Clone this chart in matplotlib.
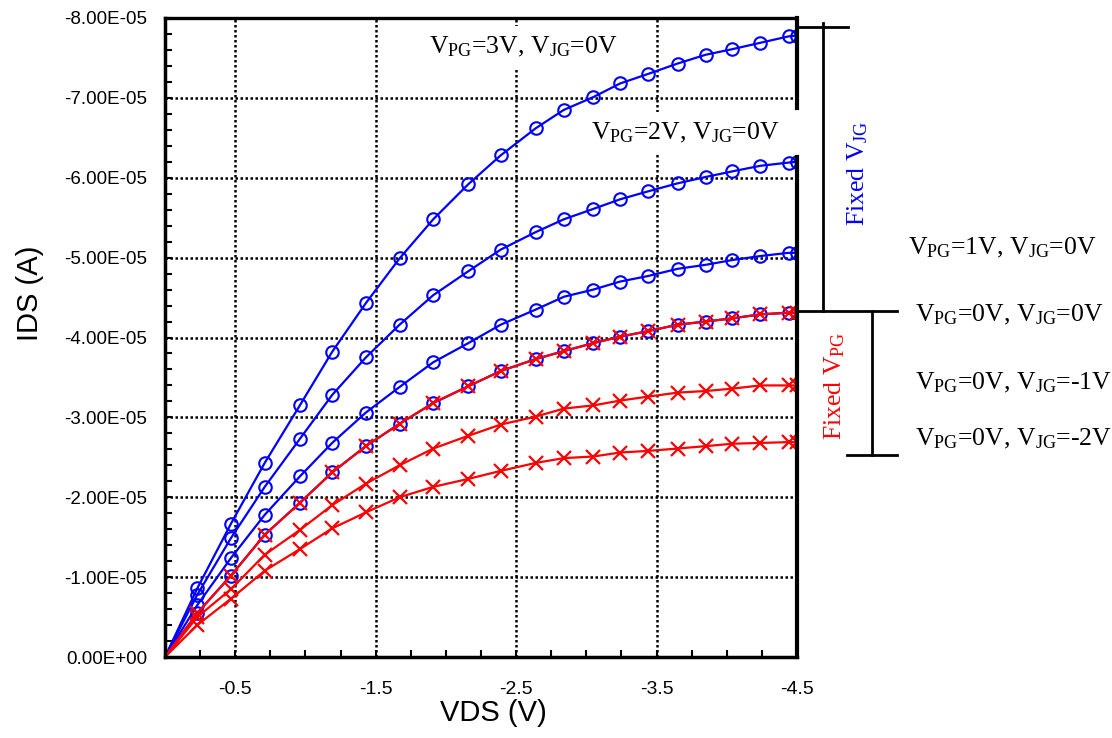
import matplotlib
matplotlib.use('Agg')
import matplotlib.pyplot as plt
from matplotlib.lines import Line2D
from matplotlib.ticker import MultipleLocator, FixedLocator, FuncFormatter

# drain voltage sweep (V) and drain currents (x1e-5 A)
vds = [0, 0.23, 0.47, 0.71, 0.96, 1.19, 1.43, 1.67, 1.91, 2.16, 2.39,
       2.64, 2.84, 3.05, 3.24, 3.44, 3.65, 3.85, 4.04, 4.24, 4.44, 4.5]
ids_pg3 = [0, 0.86, 1.67, 2.43, 3.15, 3.82, 4.43, 4.99, 5.48, 5.92, 6.28,
           6.62, 6.85, 7.01, 7.18, 7.30, 7.43, 7.54, 7.61, 7.69, 7.77, 7.78]
ids_pg2 = [0, 0.78, 1.49, 2.13, 2.73, 3.28, 3.75, 4.16, 4.53, 4.83, 5.10,
           5.32, 5.48, 5.61, 5.73, 5.83, 5.93, 6.01, 6.08, 6.15, 6.19, 6.20]
ids_pg1 = [0, 0.65, 1.24, 1.78, 2.26, 2.68, 3.06, 3.38, 3.69, 3.93, 4.16,
           4.35, 4.51, 4.60, 4.70, 4.77, 4.86, 4.91, 4.97, 5.02, 5.06, 5.06]
ids_jg0 = [0, 0.55, 1.02, 1.53, 1.93, 2.31, 2.64, 2.92, 3.18, 3.39, 3.58,
           3.73, 3.83, 3.93, 4.01, 4.08, 4.16, 4.20, 4.24, 4.29, 4.31, 4.31]
ids_jgm1 = [0, 0.50, 0.85, 1.28, 1.59, 1.90, 2.17, 2.40, 2.61, 2.77, 2.91,
            3.01, 3.11, 3.15, 3.21, 3.26, 3.31, 3.33, 3.36, 3.40, 3.40, 3.40]
ids_jgm2 = [0, 0.40, 0.73, 1.08, 1.35, 1.61, 1.81, 2.00, 2.13, 2.23, 2.33,
            2.43, 2.49, 2.51, 2.56, 2.58, 2.61, 2.64, 2.67, 2.68, 2.69, 2.69]

x_ticks = [-0.5, -1.5, -2.5, -3.5, -4.5]

plt.rcParams['font.family'] = 'Liberation Sans'
plt.rcParams['axes.unicode_minus'] = False
plt.rcParams['mathtext.fontset'] = 'custom'
plt.rcParams['mathtext.rm'] = 'Liberation Serif'
plt.rcParams['mathtext.it'] = 'Liberation Serif:italic'

W, H = 1112, 738
fig = plt.figure(figsize=(W / 100, H / 100), dpi=100)
ax = fig.add_axes([165 / W, 1 - 657 / H, 632 / W, 639 / H])

x = [-v for v in vds]
blue, red = '#0000ff', '#ff0000'
circ = dict(marker='o', ms=9, mfc='none', mew=1.5, markevery=slice(1, None))
cross = dict(marker='x', ms=10, mew=1.6, markevery=slice(1, None))
for ys in [ids_pg3, ids_pg2, ids_pg1, ids_jg0]:
    ax.plot(x, [-v * 1e-5 for v in ys], color=blue, lw=1.6, mec=blue, **circ)
for ys in [ids_jg0, ids_jgm1, ids_jgm2]:
    ax.plot(x, [-v * 1e-5 for v in ys], color=red, lw=1.6, mec=red, **cross)

ax.set_xlim(0, -4.5)
ax.set_ylim(0, -8e-5)
ax.xaxis.set_major_locator(FixedLocator(x_ticks))
ax.xaxis.set_minor_locator(MultipleLocator(0.25))
ax.yaxis.set_major_locator(MultipleLocator(1e-5))
ax.yaxis.set_minor_locator(MultipleLocator(2e-6))
ax.xaxis.set_major_formatter(FuncFormatter(lambda v, p: f'{v:g}'))
ax.yaxis.set_major_formatter(FuncFormatter(lambda v, p: f'{abs(v) if v == 0 else v:.2E}'))
ax.tick_params(which='both', direction='in', length=5, width=1.5)
ax.tick_params(axis='x', which='major', labelsize=14, pad=17)
ax.tick_params(axis='y', which='major', labelsize=13.5, pad=13)

grid = dict(color='black', lw=1.8, ls=(0, (1, 1)), zorder=1)
for gx in x_ticks[:-1]:
    ax.axvline(gx, **grid)
for gy in range(1, 8):
    ax.axhline(-gy * 1e-5, **grid)

for s in ['left', 'bottom']:
    ax.spines[s].set_linewidth(2.5)
ax.spines['top'].set_linewidth(2.4)
ax.spines['top'].set_linestyle((0, (1, 1)))
ax.spines['right'].set_visible(False)
ax.axvline(-4.5, ymin=(657 - 108) / 639, ymax=1, color='black', lw=3, clip_on=False)
ax.axvline(-4.5, ymin=0, ymax=(657 - 157) / 639, color='black', lw=3, clip_on=False)


def fx(px):
    return px / W


def fy(py):
    return 1 - py / H


fig.text(fx(493), fy(713), 'VDS (V)', fontsize=21, ha='center', va='center')
fig.text(fx(30), fy(293), 'IDS (A)', fontsize=21, ha='center', va='center',
         rotation=90)

serif = dict(family='Liberation Serif', fontsize=18.5, va='center')
box = dict(boxstyle='square,pad=0.35', fc='white', ec='none')
fig.text(fx(523), fy(47), 'V$_{\\mathrm{PG}}$=3V, V$_{\\mathrm{JG}}$=0V',
         ha='center', bbox=box, zorder=3, **serif)
fig.text(fx(685), fy(133), 'V$_{\\mathrm{PG}}$=2V, V$_{\\mathrm{JG}}$=0V',
         ha='center', bbox=box, zorder=3, **serif)
fig.text(fx(908), fy(248), 'V$_{\\mathrm{PG}}$=1V, V$_{\\mathrm{JG}}$=0V',
         ha='left', **serif)
fig.text(fx(915), fy(315), 'V$_{\\mathrm{PG}}$=0V, V$_{\\mathrm{JG}}$=0V',
         ha='left', **serif)
fig.text(fx(915), fy(383), 'V$_{\\mathrm{PG}}$=0V, V$_{\\mathrm{JG}}$=-1V',
         ha='left', **serif)
fig.text(fx(915), fy(439), 'V$_{\\mathrm{PG}}$=0V, V$_{\\mathrm{JG}}$=-2V',
         ha='left', **serif)
fig.text(fx(858), fy(173), 'Fixed V$_{\\mathrm{JG}}$', rotation=90, ha='center',
         color=blue, **serif)
fig.text(fx(835), fy(386), 'Fixed V$_{\\mathrm{PG}}$', rotation=90, ha='center',
         color=red, **serif)

# bracket lines on the right
segs = [((797, 27), (848, 27)), ((823, 23), (823, 311)), ((797, 311), (897, 311)),
        ((872, 311), (872, 455)), ((847, 455), (897, 455))]
for (x0, y0), (x1, y1) in segs:
    fig.add_artist(Line2D([fx(x0), fx(x1)], [fy(y0), fy(y1)], color='black',
                          lw=2, transform=fig.transFigure))

fig.savefig('out.png', dpi=100)
